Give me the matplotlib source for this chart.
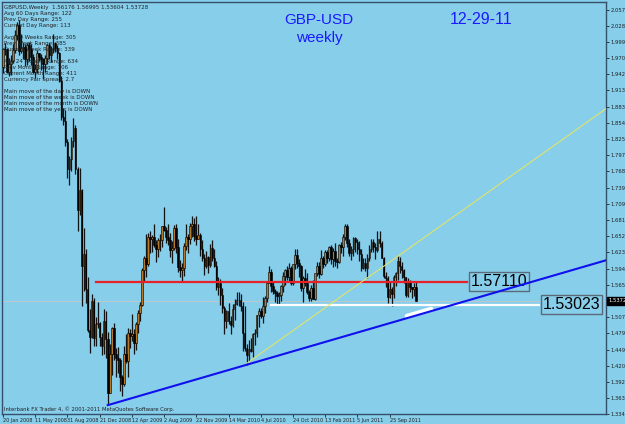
import matplotlib
matplotlib.use("Agg")
import matplotlib.pyplot as plt
import numpy as np

# GBPUSD weekly, week starting 20 Jan 2008 ... 25 Dec 2011
opens = [1.9560, 1.9880, 1.9870, 1.9470, 1.9600, 1.9660, 1.9850, 2.0130, 2.0300, 1.9830,
         1.9900, 1.9910, 1.9700, 1.9950, 1.9880, 1.9740, 1.9460, 1.9520, 1.9800, 1.9730,
         1.9700, 1.9600, 1.9720, 1.9950, 1.9760, 1.9880, 1.9990, 1.9890, 1.9800, 1.9310,
         1.8660, 1.8580, 1.8210, 1.7730, 1.7910, 1.8220, 1.8470, 1.7730, 1.6990, 1.7360,
         1.6000, 1.6200, 1.5580, 1.4850, 1.4720, 1.5360, 1.4700, 1.4960, 1.4980, 1.4730,
         1.4570, 1.5010, 1.4690, 1.3720, 1.4410, 1.4880, 1.4410, 1.4350, 1.4310, 1.4010,
         1.3890, 1.4420, 1.4300, 1.4800, 1.4740, 1.4780, 1.4620, 1.4960, 1.5160, 1.5290,
         1.5920, 1.6140, 1.6030, 1.6520, 1.6470, 1.6510, 1.6370, 1.6290, 1.6450, 1.6460,
         1.6700, 1.6640, 1.6510, 1.6460, 1.6280, 1.6310, 1.6670, 1.6330, 1.5980, 1.5920,
         1.5950, 1.6350, 1.6520, 1.6470, 1.6700, 1.6750, 1.6530, 1.6470, 1.6550, 1.6290,
         1.6140, 1.6000, 1.6150, 1.6010, 1.6320, 1.6140, 1.6000, 1.5620, 1.5680, 1.5480,
         1.5250, 1.5000, 1.5190, 1.5000, 1.4930, 1.5230, 1.5310, 1.5380, 1.5390, 1.5280,
         1.4790, 1.4520, 1.4400, 1.4510, 1.4470, 1.4770, 1.4800, 1.5110, 1.5180, 1.5100,
         1.5280, 1.5420, 1.5690, 1.5880, 1.5640, 1.5540, 1.5510, 1.5460, 1.5470, 1.5640,
         1.5820, 1.5920, 1.5800, 1.5960, 1.5690, 1.6020, 1.6190, 1.6050, 1.5990, 1.5590,
         1.5780, 1.5690, 1.5520, 1.5420, 1.5600, 1.5410, 1.5860, 1.6000, 1.5850, 1.6130,
         1.6020, 1.6250, 1.6130, 1.6330, 1.6110, 1.6260, 1.6090, 1.6060, 1.6360, 1.6330,
         1.6520, 1.6700, 1.6400, 1.6220, 1.6290, 1.6490, 1.6430, 1.6290, 1.6210, 1.5950,
         1.6050, 1.5960, 1.6140, 1.6300, 1.6430, 1.6340, 1.6280, 1.6480, 1.6400, 1.6140,
         1.5820, 1.5770, 1.5440, 1.5580, 1.5500, 1.5800, 1.5860, 1.6080, 1.6000, 1.5920,
         1.5800, 1.5470, 1.5700, 1.5620, 1.5580, 1.5618]
highs = [1.9890, 1.9990, 1.9900, 1.9720, 1.9760, 1.9960, 2.0220, 2.0360, 2.0400, 2.0140,
         1.9990, 1.9960, 1.9990, 2.0000, 1.9960, 1.9790, 1.9610, 1.9850, 1.9810, 1.9780,
         1.9720, 1.9760, 1.9970, 1.9990, 1.9920, 2.0150, 2.0000, 1.9940, 1.9820, 1.9390,
         1.8820, 1.8780, 1.8270, 1.7960, 1.8300, 1.8640, 1.8520, 1.7770, 1.7740, 1.7370,
         1.6680, 1.6290, 1.5800, 1.5220, 1.5500, 1.5420, 1.5080, 1.5350, 1.4990, 1.4800,
         1.5220, 1.5180, 1.4810, 1.4600, 1.4900, 1.4970, 1.4520, 1.4550, 1.4340, 1.4050,
         1.4570, 1.4780, 1.4880, 1.4860, 1.5130, 1.4860, 1.4990, 1.5200, 1.5350, 1.5960,
         1.6170, 1.6570, 1.6580, 1.6610, 1.6550, 1.6740, 1.6450, 1.6490, 1.6560, 1.6710,
         1.7040, 1.6690, 1.6740, 1.6580, 1.6440, 1.6720, 1.6740, 1.6480, 1.6100, 1.6050,
         1.6400, 1.6740, 1.6560, 1.6760, 1.6890, 1.6860, 1.6880, 1.6740, 1.6590, 1.6460,
         1.6200, 1.6260, 1.6180, 1.6380, 1.6460, 1.6290, 1.6090, 1.5800, 1.5760, 1.5600,
         1.5270, 1.5200, 1.5330, 1.5090, 1.5310, 1.5400, 1.5520, 1.5520, 1.5500, 1.5350,
         1.5270, 1.4600, 1.4670, 1.4710, 1.4800, 1.4870, 1.5110, 1.5240, 1.5240, 1.5430,
         1.5460, 1.5710, 1.6000, 1.5930, 1.5720, 1.5580, 1.5550, 1.5530, 1.5660, 1.5880,
         1.5930, 1.5990, 1.6040, 1.5990, 1.6030, 1.6300, 1.6300, 1.6110, 1.6010, 1.5810,
         1.5930, 1.5860, 1.5560, 1.5650, 1.5740, 1.5840, 1.6060, 1.6060, 1.6280, 1.6170,
         1.6270, 1.6280, 1.6350, 1.6360, 1.6310, 1.6410, 1.6140, 1.6390, 1.6420, 1.6560,
         1.6740, 1.6750, 1.6480, 1.6350, 1.6520, 1.6510, 1.6480, 1.6440, 1.6290, 1.6140,
         1.6140, 1.6210, 1.6360, 1.6480, 1.6470, 1.6400, 1.6620, 1.6620, 1.6440, 1.6160,
         1.5890, 1.5820, 1.5730, 1.5620, 1.5830, 1.5890, 1.6170, 1.6160, 1.6070, 1.5940,
         1.5800, 1.5780, 1.5740, 1.5620, 1.5690, 1.5700]
lows = [1.9450, 1.9770, 1.9450, 1.9400, 1.9410, 1.9620, 1.9800, 2.0030, 1.9760, 1.9810,
        1.9700, 1.9570, 1.9580, 1.9660, 1.9580, 1.9440, 1.9360, 1.9450, 1.9660, 1.9500,
        1.9340, 1.9460, 1.9610, 1.9690, 1.9650, 1.9810, 1.9820, 1.9690, 1.9290, 1.8600,
        1.8520, 1.8140, 1.7560, 1.7440, 1.7700, 1.8120, 1.7640, 1.6620, 1.6910, 1.5280,
        1.5540, 1.5330, 1.4820, 1.4440, 1.4710, 1.4560, 1.4570, 1.4880, 1.4560, 1.4400,
        1.4410, 1.4350, 1.3500, 1.3720, 1.4050, 1.4310, 1.4000, 1.4080, 1.3760, 1.3660,
        1.3840, 1.4250, 1.4010, 1.4520, 1.4650, 1.4410, 1.4490, 1.4790, 1.5000, 1.5280,
        1.5710, 1.5800, 1.6000, 1.6220, 1.6250, 1.6340, 1.6060, 1.6150, 1.6260, 1.6330,
        1.6610, 1.6410, 1.6360, 1.6160, 1.6040, 1.6280, 1.6230, 1.5880, 1.5790, 1.5710,
        1.5820, 1.6270, 1.6220, 1.6390, 1.6510, 1.6440, 1.6370, 1.6470, 1.6180, 1.6090,
        1.5830, 1.5950, 1.5860, 1.5980, 1.6080, 1.5970, 1.5570, 1.5480, 1.5300, 1.5150,
        1.4780, 1.4880, 1.4960, 1.4780, 1.4900, 1.5030, 1.5290, 1.5270, 1.5180, 1.4470,
        1.4480, 1.4230, 1.4300, 1.4450, 1.4360, 1.4580, 1.4730, 1.4910, 1.5060, 1.4980,
        1.5150, 1.5340, 1.5680, 1.5520, 1.5500, 1.5340, 1.5290, 1.5290, 1.5370, 1.5520,
        1.5650, 1.5750, 1.5700, 1.5650, 1.5650, 1.5930, 1.5960, 1.5790, 1.5540, 1.5350,
        1.5640, 1.5500, 1.5370, 1.5360, 1.5410, 1.5390, 1.5820, 1.5780, 1.5840, 1.5950,
        1.6000, 1.6050, 1.6090, 1.6020, 1.5980, 1.6000, 1.5950, 1.6040, 1.6220, 1.6170,
        1.6460, 1.6340, 1.6170, 1.6100, 1.6170, 1.6240, 1.6210, 1.6090, 1.5910, 1.5940,
        1.5910, 1.5780, 1.6090, 1.6250, 1.6250, 1.6110, 1.6240, 1.6330, 1.6130, 1.5780,
        1.5610, 1.5330, 1.5420, 1.5270, 1.5420, 1.5630, 1.5750, 1.5860, 1.5770, 1.5690,
        1.5440, 1.5440, 1.5520, 1.5420, 1.5450, 1.5360]
closes = opens[1:] + [1.5373]

date_ticks = [0, 16, 32, 48, 64, 80, 96, 112, 128, 144, 160, 176, 192]
date_labels = ["20 Jan 2008", "11 May 2008", "31 Aug 2008", "21 Dec 2008", "12 Apr 2009",
               "2 Aug 2009", "22 Nov 2009", "14 Mar 2010", "4 Jul 2010", "24 Oct 2010",
               "13 Feb 2011", "5 Jun 2011", "25 Sep 2011"]
price_labels = ["2.05720", "2.02840", "1.99960", "1.97080", "1.94200", "1.91320", "1.88350",
                "1.85470", "1.82590", "1.79710", "1.76830", "1.73950", "1.70980", "1.68100",
                "1.65220", "1.62340", "1.59460", "1.56580", "1.50720", "1.47950", "1.44970",
                "1.42090", "1.39210", "1.36330", "1.33460"]

info_lines = ["GBPUSD,Weekly  1.56176 1.56995 1.53604 1.53728",
              "Avg 60 Days Range: 122", "Prev Day Range: 255", "Current Day Range: 113", "",
              "Avg 60 Weeks Range: 305", "Prev Week Range: 385", "Current Week Range: 339", "",
              "Avg 24 Months Range: 634", "Prev Month Range: 706", "Current Month Range: 411",
              "Currency Pair Spread: 2.7", "",
              "Main move of the day is DOWN", "Main move of the week is DOWN",
              "Main move of the month is DOWN", "Main move of the year is DOWN"]

red_level = 1.57110
white_level = 1.53023
bid = 1.53728
trend_blue = ([52, 300], [1.3503, 1.6100])
trend_yellow = ([121.1, 300], [1.4252, 1.8819])

bg = "#87CEEB"
fig = plt.figure(figsize=(6.25, 4.24), dpi=100, facecolor=bg)
W, H = 625, 424
ax = fig.add_axes([2 / W, 10 / H, 604 / W, 412 / H], facecolor=bg)

x = np.arange(len(opens))
o = np.array(opens); h = np.array(highs); l = np.array(lows); c = np.array(closes)
up = c >= o

# soft halo behind the candles, like the scaled-down screenshot
ax.vlines(x, l, h, color="#4a6f80", lw=1.8, alpha=0.35, zorder=2)
ax.vlines(x, l, h, color="#101010", lw=0.7, zorder=3)
ax.bar(x[up], (c - o)[up], bottom=o[up], width=0.8, color="#b8782a",
       edgecolor="black", lw=0.4, zorder=4)
ax.bar(x[~up], (o - c)[~up], bottom=c[~up], width=0.8, color="black",
       edgecolor="black", lw=0.4, zorder=4)

# bid line
ax.axhline(bid, color="#c8c8c8", lw=0.6, zorder=1)

# horizontal levels
ax.plot([46, 230.5], [red_level, red_level], color="#e8202a", lw=1.6, zorder=5)
ax.plot([133, 266], [white_level, white_level], color="white", lw=1.6, zorder=5)
ax.text(232.2, red_level, "1.57110", fontsize=11.5, family="Liberation Sans", va="center",
        ha="left", zorder=6,
        bbox=dict(boxstyle="square,pad=0.12", fc=bg, ec="#5a6a78", lw=1))
ax.text(268, white_level, "1.53023", fontsize=11.5, family="Liberation Sans", va="center",
        ha="left", zorder=6,
        bbox=dict(boxstyle="square,pad=0.12", fc=bg, ec="#5a6a78", lw=1))

# trend lines
ax.plot(*trend_yellow, color="#dfe36a", lw=0.8, zorder=5)
slope = (trend_blue[1][1] - trend_blue[1][0]) / (trend_blue[0][1] - trend_blue[0][0])
ex = np.array([200.7, 212.6])
ax.plot(ex, trend_blue[1][0] + (ex - 52) * slope + 0.0035, color="white", lw=3.5,
        solid_capstyle="round", zorder=5)
ax.plot(*trend_blue, color="#1010ee", lw=1.5, zorder=6)

ax.set_xlim(-0.5, 299.5)
ax.set_ylim(1.3345, 2.0715)

for s in ax.spines.values():
    s.set_color("#35506a")
    s.set_linewidth(1)

ax.yaxis.tick_right()
yt = [float(v) for v in price_labels]
ax.set_yticks(yt)
ax.set_yticklabels(price_labels, fontsize=3.8, family="DejaVu Sans")
ax.tick_params(axis="y", direction="out", length=2, width=0.6, pad=1, colors="#202020")
ax.set_xticks(date_ticks)
ax.set_xticklabels(date_labels, fontsize=3.5, family="DejaVu Sans", ha="left")
ax.tick_params(axis="x", direction="out", length=2, width=0.6, pad=1, colors="#202020")

# current price marker
fig.text(608 / W, 1 - 301 / H, "1.53728", fontsize=3.8, color="white", va="center",
         ha="left", bbox=dict(boxstyle="square,pad=0.2", fc="black", ec="black"))

# info text
for i, line in enumerate(info_lines):
    ax.text(0.004, 1 - (3 + 6 * i) / 412, line, transform=ax.transAxes, fontsize=4,
            va="top", ha="left", color="#202020", zorder=7)

ax.text(0.004, 0.004, "Interbank FX Trader 4, \u00a9 2001-2011 MetaQuotes Software Corp.",
        transform=ax.transAxes, fontsize=3.8, va="bottom", ha="left", color="#202020")

fig.text(319 / W, 1 - 20 / H, "GBP-USD", fontsize=11, color="#1a1aff",
         family="Liberation Sans", ha="center", va="center")
fig.text(319 / W, 1 - 38 / H, "weekly", fontsize=11, color="#1a1aff",
         family="Liberation Sans", ha="center", va="center")
fig.text(481 / W, 1 - 20 / H, "12-29-11", fontsize=11.5, color="#1a1aff",
         family="Liberation Sans", ha="center", va="center")

fig.savefig("out.png", dpi=100, facecolor=bg)
